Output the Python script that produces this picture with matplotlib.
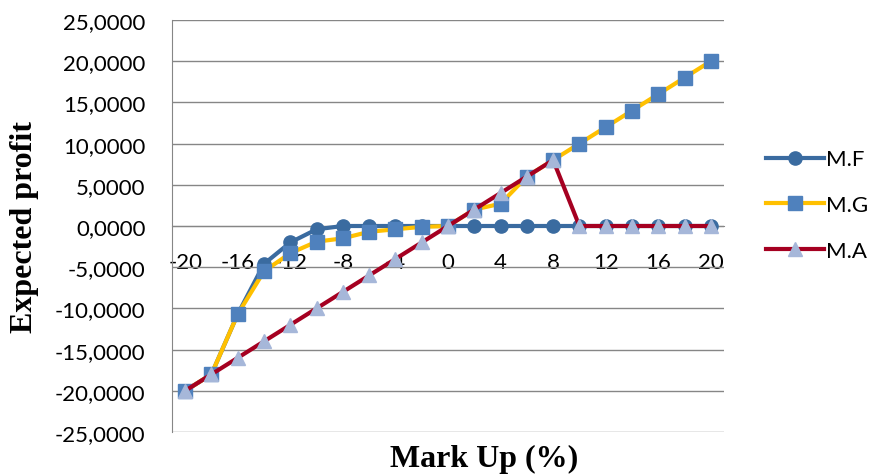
import matplotlib.pyplot as plt
from matplotlib.ticker import FuncFormatter

markup = [-20, -18, -16, -14, -12, -10, -8, -6, -4, -2, 0, 2, 4, 6, 8, 10, 12, 14, 16, 18, 20]
mf = [-20, -18, -10.7, -4.6, -2.0, -0.4, 0, 0, 0, 0, 0, 0, 0, 0, 0, 0, 0, 0, 0, 0, 0]
mg = [-20, -18, -10.7, -5.5, -3.3, -1.9, -1.5, -0.7, -0.4, -0.1, 0, 2, 2.7, 6, 8, 10, 12, 14, 16, 18, 20]
ma = [-20, -18, -16, -14, -12, -10, -8, -6, -4, -2, 0, 2, 4, 6, 8, 0, 0, 0, 0, 0, 0]

plt.rcParams['font.family'] = ['Lato', 'DejaVu Sans']
plt.rcParams['font.size'] = 16
plt.rcParams['axes.unicode_minus'] = False
plt.rcParams['xtick.major.pad'] = 19
plt.rcParams['ytick.major.pad'] = 19
plt.rcParams['xtick.major.size'] = 0
plt.rcParams['ytick.major.size'] = 0

fig = plt.figure(figsize=(8.74, 4.77), dpi=100)
ax = fig.add_axes([172 / 874, 44 / 477, 552 / 874, 412 / 477])

ax.plot(markup, mf, color='#3A6BA0', linewidth=3, marker='o', markersize=9.5,
        markerfacecolor='#3A6BA0', markeredgecolor='#3A6BA0', label='M.F', zorder=3)
ax.plot(markup, mg, color='#FFC000', linewidth=3, marker='s', markersize=9.5,
        markerfacecolor='#4F81BD', markeredgecolor='#4F81BD', label='M.G', zorder=4)
ax.plot(markup, ma, color='#A50021', linewidth=3, marker='^', markersize=10.5,
        markerfacecolor='#A6B7D9', markeredgecolor='#A6B7D9', label='M.A', zorder=5)

ax.set_xlim(-21, 21)
ax.set_ylim(-25, 25)
ax.set_yticks(range(-25, 30, 5))
ax.set_xticks(range(-20, 24, 4))
ax.yaxis.set_major_formatter(FuncFormatter(lambda v, p: f"{v:.4f}".replace('.', ',')))
ax.xaxis.set_major_formatter(FuncFormatter(lambda v, p: f"{v:.0f}"))
ax.tick_params(labelsize=16, colors='black')

ax.grid(axis='y', color='#868686', linewidth=1)
ax.set_axisbelow(True)

ax.spines['top'].set_visible(False)
ax.spines['right'].set_visible(False)
ax.spines['left'].set_color('#868686')
ax.spines['bottom'].set_position(('data', 0))
ax.spines['bottom'].set_color('#868686')

fig.text(25 / 874, 1 - 227.5 / 477, 'Expected profit', fontfamily='Liberation Serif',
         fontweight='bold', fontsize=23, ha='center', va='center', rotation=90)
fig.text(484.5 / 874, 1 - 459 / 477, 'Mark Up (%)', fontfamily='Liberation Serif',
         fontweight='bold', fontsize=23, ha='center', va='center')

ax.legend(loc='center left', bbox_to_anchor=(1.04, 0.551), frameon=False,
          prop={'family': 'Lato', 'size': 16}, handlelength=2.6, labelspacing=1.15,
          handletextpad=0.1)

plt.savefig('out.png', dpi=100)
